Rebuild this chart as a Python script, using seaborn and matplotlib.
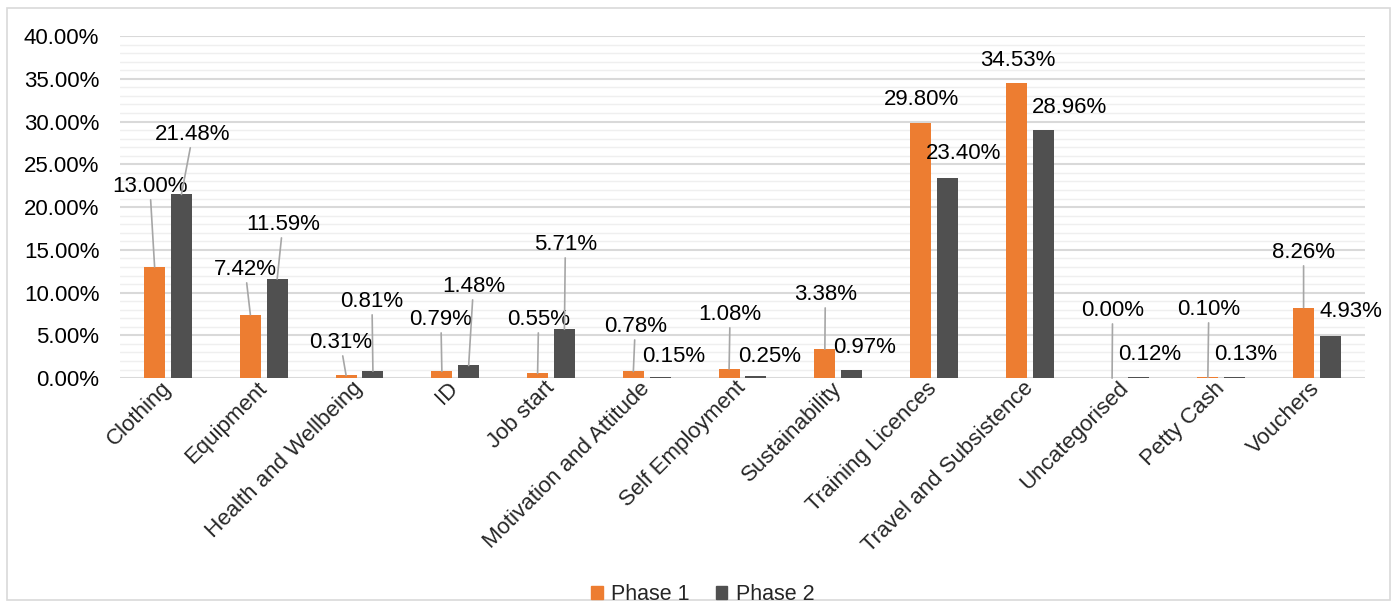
import numpy as np
import pandas as pd
import matplotlib
matplotlib.use("Agg")
import matplotlib.pyplot as plt
import matplotlib.patches as mpatches
from matplotlib.ticker import MultipleLocator, FuncFormatter
import seaborn as sns

categories = ['Clothing', 'Equipment', 'Health and Wellbeing', 'ID', 'Job start',
              'Motivation and Attitude', 'Self Employment', 'Sustainability',
              'Training Licences', 'Travel and Subsistence', 'Uncategorised',
              'Petty Cash', 'Vouchers']
phase1 = [13.00, 7.42, 0.31, 0.79, 0.55, 0.78, 1.08, 3.38, 29.80, 34.53, 0.00, 0.10, 8.26]
phase2 = [21.48, 11.59, 0.81, 1.48, 5.71, 0.15, 0.25, 0.97, 23.40, 28.96, 0.12, 0.13, 4.93]

# label placement (x offset from category centre, y of label in %), as in the source chart
p1_lab_dx = [-0.19, -0.195, -0.20, -0.15, -0.13, -0.12, -0.13, -0.135, -0.13, -0.13, -0.135, -0.13, -0.14]
p1_lab_y = [22.46, 12.75, 4.21, 6.90, 6.90, 6.08, 7.49, 9.82, 32.63, 37.19, 7.95, 8.07, 14.74]
p2_lab_dx = [0.26, 0.20, 0.13, 0.19, 0.15, 0.28, 0.28, 0.27, 0.31, 0.41, 0.25, 0.255, 0.35]
p2_lab_y = [28.54, 18.01, 9.01, 10.76, 15.67, 2.57, 2.57, 3.63, 26.32, 31.70, 2.81, 2.81, 7.84]

colors = {'Phase 1': '#ED7D31', 'Phase 2': '#505050'}

df = pd.DataFrame({
    'category': categories * 2,
    'phase': ['Phase 1'] * len(categories) + ['Phase 2'] * len(categories),
    'value': phase1 + phase2,
})

sns.set_style("white")
plt.rcParams['font.family'] = ['Liberation Sans', 'DejaVu Sans']

fig = plt.figure(figsize=(13.97, 6.06), dpi=100)
ax = fig.add_axes([0.086, 0.376, 0.891, 0.5645])

sns.barplot(data=df, x='category', y='value', hue='phase', palette=colors,
            saturation=1, width=0.56, gap=0.22, ax=ax, legend=False,
            errorbar=None, linewidth=0, zorder=3)

ax.set_ylim(0, 40)
ax.set_xlim(-0.5, len(categories) - 0.5)
ax.yaxis.set_major_locator(MultipleLocator(5))
ax.yaxis.set_minor_locator(MultipleLocator(1))
ax.yaxis.set_major_formatter(FuncFormatter(lambda v, p: '{:.2f}%'.format(v)))
ax.grid(which='major', axis='y', color='#D9D9D9', lw=1.5, zorder=0)
ax.grid(which='minor', axis='y', color='#EFEFEF', lw=1.0, zorder=0)
ax.set_axisbelow(True)
for s in ax.spines.values():
    s.set_visible(False)
ax.tick_params(axis='y', length=0, pad=15, labelsize=16, colors='#000000', which='both')
ax.tick_params(axis='x', length=0, pad=5, labelsize=16)
plt.setp(ax.get_xticklabels(), rotation=45, ha='right', va='center', rotation_mode='anchor')
ax.set_xlabel('')
ax.set_ylabel('')

# data labels with leader lines
offs = [-0.14, 0.14]
for k, (vals, dxs, ys) in enumerate([(phase1, p1_lab_dx, p1_lab_y), (phase2, p2_lab_dx, p2_lab_y)]):
    for i, v in enumerate(vals):
        bx = i + offs[k]
        kw = {}
        if ys[i] - v > 3.3:
            kw['arrowprops'] = dict(arrowstyle='-', color='#A6A6A6', lw=1.2, shrinkA=0, shrinkB=0)
        ax.annotate('{:.2f}%'.format(v), xy=(bx, v), xytext=(i + dxs[i], ys[i]),
                    ha='center', va='center', fontsize=16, color='#000000', zorder=4, **kw)

handles = [mpatches.Patch(color=colors[p], label=p) for p in ['Phase 1', 'Phase 2']]
fig.legend(handles=handles, loc='lower center', bbox_to_anchor=(0.503, -0.03), ncol=2,
           frameon=False, fontsize=15.5, handlelength=0.55, handleheight=0.55,
           handletextpad=0.4, columnspacing=1.2)

fig.patches.append(mpatches.Rectangle((0.005, 0.01), 0.99, 0.977, transform=fig.transFigure,
                                      fill=False, edgecolor='#D9D9D9', lw=1.2))

fig.savefig('out.png', dpi=100, facecolor='white')
